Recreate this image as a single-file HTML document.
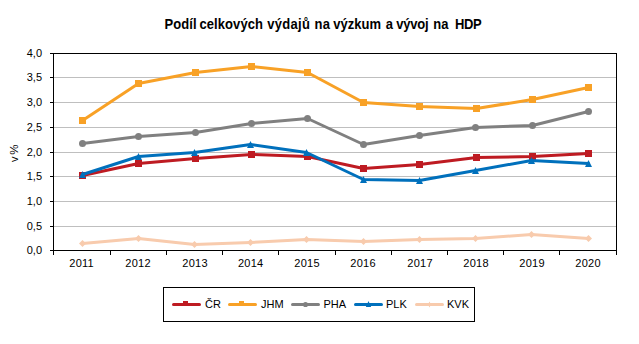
<!DOCTYPE html>
<html><head><meta charset="utf-8"><style>
html,body{margin:0;padding:0;background:#fff;}
svg{display:block;}
.t{font-family:"Liberation Sans",sans-serif;font-size:11px;fill:#000;}
.title{font-family:"Liberation Sans",sans-serif;font-size:13px;font-weight:bold;fill:#000;}
</style></head><body>
<svg width="639" height="344" viewBox="0 0 639 344">
<rect width="639" height="344" fill="#fff"/>
<line x1="54" y1="77.5" x2="616" y2="77.5" stroke="#BFBFBF" stroke-width="1"/>
<line x1="54" y1="102.5" x2="616" y2="102.5" stroke="#BFBFBF" stroke-width="1"/>
<line x1="54" y1="127.5" x2="616" y2="127.5" stroke="#BFBFBF" stroke-width="1"/>
<line x1="54" y1="152.5" x2="616" y2="152.5" stroke="#BFBFBF" stroke-width="1"/>
<line x1="54" y1="176.5" x2="616" y2="176.5" stroke="#BFBFBF" stroke-width="1"/>
<line x1="54" y1="201.5" x2="616" y2="201.5" stroke="#BFBFBF" stroke-width="1"/>
<line x1="54" y1="226.5" x2="616" y2="226.5" stroke="#BFBFBF" stroke-width="1"/>
<rect x="53.5" y="53.5" width="563" height="197" fill="none" stroke="#000" stroke-width="1"/>
<line x1="50" y1="53.5" x2="54" y2="53.5" stroke="#000" stroke-width="1"/>
<text x="42" y="57.0" text-anchor="end" class="t">4,0</text>
<line x1="50" y1="77.5" x2="54" y2="77.5" stroke="#000" stroke-width="1"/>
<text x="42" y="81.0" text-anchor="end" class="t">3,5</text>
<line x1="50" y1="102.5" x2="54" y2="102.5" stroke="#000" stroke-width="1"/>
<text x="42" y="106.0" text-anchor="end" class="t">3,0</text>
<line x1="50" y1="127.5" x2="54" y2="127.5" stroke="#000" stroke-width="1"/>
<text x="42" y="131.0" text-anchor="end" class="t">2,5</text>
<line x1="50" y1="152.5" x2="54" y2="152.5" stroke="#000" stroke-width="1"/>
<text x="42" y="156.0" text-anchor="end" class="t">2,0</text>
<line x1="50" y1="176.5" x2="54" y2="176.5" stroke="#000" stroke-width="1"/>
<text x="42" y="180.0" text-anchor="end" class="t">1,5</text>
<line x1="50" y1="201.5" x2="54" y2="201.5" stroke="#000" stroke-width="1"/>
<text x="42" y="205.0" text-anchor="end" class="t">1,0</text>
<line x1="50" y1="226.5" x2="54" y2="226.5" stroke="#000" stroke-width="1"/>
<text x="42" y="230.0" text-anchor="end" class="t">0,5</text>
<line x1="50" y1="250.5" x2="54" y2="250.5" stroke="#000" stroke-width="1"/>
<text x="42" y="254.0" text-anchor="end" class="t">0,0</text>
<line x1="53.5" y1="250" x2="53.5" y2="255" stroke="#000" stroke-width="1"/>
<line x1="110.5" y1="250" x2="110.5" y2="255" stroke="#000" stroke-width="1"/>
<line x1="166.5" y1="250" x2="166.5" y2="255" stroke="#000" stroke-width="1"/>
<line x1="222.5" y1="250" x2="222.5" y2="255" stroke="#000" stroke-width="1"/>
<line x1="278.5" y1="250" x2="278.5" y2="255" stroke="#000" stroke-width="1"/>
<line x1="335.5" y1="250" x2="335.5" y2="255" stroke="#000" stroke-width="1"/>
<line x1="391.5" y1="250" x2="391.5" y2="255" stroke="#000" stroke-width="1"/>
<line x1="447.5" y1="250" x2="447.5" y2="255" stroke="#000" stroke-width="1"/>
<line x1="503.5" y1="250" x2="503.5" y2="255" stroke="#000" stroke-width="1"/>
<line x1="559.5" y1="250" x2="559.5" y2="255" stroke="#000" stroke-width="1"/>
<line x1="616.5" y1="250" x2="616.5" y2="255" stroke="#000" stroke-width="1"/>
<text x="81.60" y="267" text-anchor="middle" class="t" letter-spacing="0.25">2011</text>
<text x="138.10" y="267" text-anchor="middle" class="t" letter-spacing="0.25">2012</text>
<text x="195.10" y="267" text-anchor="middle" class="t" letter-spacing="0.25">2013</text>
<text x="250.70" y="267" text-anchor="middle" class="t" letter-spacing="0.25">2014</text>
<text x="307.10" y="267" text-anchor="middle" class="t" letter-spacing="0.25">2015</text>
<text x="363.10" y="267" text-anchor="middle" class="t" letter-spacing="0.25">2016</text>
<text x="420.10" y="267" text-anchor="middle" class="t" letter-spacing="0.25">2017</text>
<text x="476.10" y="267" text-anchor="middle" class="t" letter-spacing="0.25">2018</text>
<text x="532.10" y="267" text-anchor="middle" class="t" letter-spacing="0.25">2019</text>
<text x="588.10" y="267" text-anchor="middle" class="t" letter-spacing="0.25">2020</text>
<polyline points="82.50,175.50 138.50,163.50 195.50,158.50 251.50,154.50 307.50,156.50 363.50,168.50 419.50,164.50 476.50,157.50 532.50,156.50 588.50,153.50" fill="none" stroke="#BE1B22" stroke-width="3" stroke-linejoin="round" stroke-linecap="round"/>
<rect x="79.00" y="172.00" width="7.0" height="7.0" fill="#BE1B22"/>
<rect x="135.00" y="160.00" width="7.0" height="7.0" fill="#BE1B22"/>
<rect x="192.00" y="155.00" width="7.0" height="7.0" fill="#BE1B22"/>
<rect x="248.00" y="151.00" width="7.0" height="7.0" fill="#BE1B22"/>
<rect x="304.00" y="153.00" width="7.0" height="7.0" fill="#BE1B22"/>
<rect x="360.00" y="165.00" width="7.0" height="7.0" fill="#BE1B22"/>
<rect x="416.00" y="161.00" width="7.0" height="7.0" fill="#BE1B22"/>
<rect x="473.00" y="154.00" width="7.0" height="7.0" fill="#BE1B22"/>
<rect x="529.00" y="153.00" width="7.0" height="7.0" fill="#BE1B22"/>
<rect x="585.00" y="150.00" width="7.0" height="7.0" fill="#BE1B22"/>
<polyline points="82.50,120.50 138.50,83.50 195.50,72.50 251.50,66.50 307.50,72.50 363.50,102.50 419.50,106.50 476.50,108.50 532.50,99.50 588.50,87.50" fill="none" stroke="#F8A126" stroke-width="3" stroke-linejoin="round" stroke-linecap="round"/>
<rect x="79.00" y="117.00" width="7.0" height="7.0" fill="#F8A126"/>
<rect x="135.00" y="80.00" width="7.0" height="7.0" fill="#F8A126"/>
<rect x="192.00" y="69.00" width="7.0" height="7.0" fill="#F8A126"/>
<rect x="248.00" y="63.00" width="7.0" height="7.0" fill="#F8A126"/>
<rect x="304.00" y="69.00" width="7.0" height="7.0" fill="#F8A126"/>
<rect x="360.00" y="99.00" width="7.0" height="7.0" fill="#F8A126"/>
<rect x="416.00" y="103.00" width="7.0" height="7.0" fill="#F8A126"/>
<rect x="473.00" y="105.00" width="7.0" height="7.0" fill="#F8A126"/>
<rect x="529.00" y="96.00" width="7.0" height="7.0" fill="#F8A126"/>
<rect x="585.00" y="84.00" width="7.0" height="7.0" fill="#F8A126"/>
<polyline points="82.50,143.50 138.50,136.50 195.50,132.50 251.50,123.50 307.50,118.50 363.50,144.50 419.50,135.50 475.50,127.50 532.50,125.50 588.50,111.50" fill="none" stroke="#808080" stroke-width="3" stroke-linejoin="round" stroke-linecap="round"/>
<circle cx="82.50" cy="143.50" r="3.5" fill="#808080"/>
<circle cx="138.50" cy="136.50" r="3.5" fill="#808080"/>
<circle cx="195.50" cy="132.50" r="3.5" fill="#808080"/>
<circle cx="251.50" cy="123.50" r="3.5" fill="#808080"/>
<circle cx="307.50" cy="118.50" r="3.5" fill="#808080"/>
<circle cx="363.50" cy="144.50" r="3.5" fill="#808080"/>
<circle cx="419.50" cy="135.50" r="3.5" fill="#808080"/>
<circle cx="475.50" cy="127.50" r="3.5" fill="#808080"/>
<circle cx="532.50" cy="125.50" r="3.5" fill="#808080"/>
<circle cx="588.50" cy="111.50" r="3.5" fill="#808080"/>
<polyline points="82.50,174.50 138.50,156.50 194.50,152.50 250.50,144.50 306.50,152.50 363.50,179.50 419.50,180.50 475.50,170.50 531.50,160.50 588.50,163.50" fill="none" stroke="#0070BC" stroke-width="3" stroke-linejoin="round" stroke-linecap="round"/>
<path d="M82.50 171.00L86.00 178.00L79.00 178.00Z" fill="#0070BC"/>
<path d="M138.50 153.00L142.00 160.00L135.00 160.00Z" fill="#0070BC"/>
<path d="M194.50 149.00L198.00 156.00L191.00 156.00Z" fill="#0070BC"/>
<path d="M250.50 141.00L254.00 148.00L247.00 148.00Z" fill="#0070BC"/>
<path d="M306.50 149.00L310.00 156.00L303.00 156.00Z" fill="#0070BC"/>
<path d="M363.50 176.00L367.00 183.00L360.00 183.00Z" fill="#0070BC"/>
<path d="M419.50 177.00L423.00 184.00L416.00 184.00Z" fill="#0070BC"/>
<path d="M475.50 167.00L479.00 174.00L472.00 174.00Z" fill="#0070BC"/>
<path d="M531.50 157.00L535.00 164.00L528.00 164.00Z" fill="#0070BC"/>
<path d="M588.50 160.00L592.00 167.00L585.00 167.00Z" fill="#0070BC"/>
<polyline points="82.50,243.50 138.50,238.50 194.50,244.50 250.50,242.50 306.50,239.50 363.50,241.50 419.50,239.50 475.50,238.50 531.50,234.50 588.50,238.50" fill="none" stroke="#F8CBAD" stroke-width="3" stroke-linejoin="round" stroke-linecap="round"/>
<path d="M82.50 240.00L86.00 243.50L82.50 247.00L79.00 243.50Z" fill="#F8CBAD"/>
<path d="M138.50 235.00L142.00 238.50L138.50 242.00L135.00 238.50Z" fill="#F8CBAD"/>
<path d="M194.50 241.00L198.00 244.50L194.50 248.00L191.00 244.50Z" fill="#F8CBAD"/>
<path d="M250.50 239.00L254.00 242.50L250.50 246.00L247.00 242.50Z" fill="#F8CBAD"/>
<path d="M306.50 236.00L310.00 239.50L306.50 243.00L303.00 239.50Z" fill="#F8CBAD"/>
<path d="M363.50 238.00L367.00 241.50L363.50 245.00L360.00 241.50Z" fill="#F8CBAD"/>
<path d="M419.50 236.00L423.00 239.50L419.50 243.00L416.00 239.50Z" fill="#F8CBAD"/>
<path d="M475.50 235.00L479.00 238.50L475.50 242.00L472.00 238.50Z" fill="#F8CBAD"/>
<path d="M531.50 231.00L535.00 234.50L531.50 238.00L528.00 234.50Z" fill="#F8CBAD"/>
<path d="M588.50 235.00L592.00 238.50L588.50 242.00L585.00 238.50Z" fill="#F8CBAD"/>
<text x="164.40" y="0" transform="translate(0,29) scale(1,1.09)" textLength="32.10" lengthAdjust="spacing" class="title">Podíl</text>
<text x="199.40" y="0" transform="translate(0,29) scale(1,1.09)" textLength="63.60" lengthAdjust="spacing" class="title">celkových</text>
<text x="267.15" y="0" transform="translate(0,29) scale(1,1.09)" textLength="42.75" lengthAdjust="spacing" class="title">výdajů</text>
<text x="314.40" y="0" transform="translate(0,29) scale(1,1.09)" textLength="15.50" lengthAdjust="spacing" class="title">na</text>
<text x="333.15" y="0" transform="translate(0,29) scale(1,1.09)" textLength="47.95" lengthAdjust="spacing" class="title">výzkum</text>
<text x="385.65" y="0" transform="translate(0,29) scale(1,1.09)" textLength="7.95" lengthAdjust="spacing" class="title">a</text>
<text x="396.30" y="0" transform="translate(0,29) scale(1,1.09)" textLength="32.30" lengthAdjust="spacing" class="title">vývoj</text>
<text x="433.15" y="0" transform="translate(0,29) scale(1,1.09)" textLength="15.45" lengthAdjust="spacing" class="title">na</text>
<text x="455.00" y="0" transform="translate(0,29) scale(1,1.09)" textLength="26.75" lengthAdjust="spacing" class="title">HDP</text>
<text transform="translate(18,153.5) rotate(-90)" class="t"><tspan x="-8.6" y="0">v</tspan><tspan x="-1.3" y="0" style="font-size:11.5px">%</tspan></text>
<rect x="163.5" y="287.5" width="311" height="34" fill="none" stroke="#000" stroke-width="1"/>
<line x1="173.5" y1="304.5" x2="199.5" y2="304.5" stroke="#BE1B22" stroke-width="3" stroke-linecap="round"/>
<text x="205" y="308" class="t">ČR</text>
<line x1="229.5" y1="304.5" x2="255.5" y2="304.5" stroke="#F8A126" stroke-width="3" stroke-linecap="round"/>
<text x="261" y="308" class="t">JHM</text>
<line x1="292.5" y1="304.5" x2="318.5" y2="304.5" stroke="#808080" stroke-width="3" stroke-linecap="round"/>
<text x="323.5" y="308" class="t">PHA</text>
<line x1="355.5" y1="304.5" x2="381.5" y2="304.5" stroke="#0070BC" stroke-width="3" stroke-linecap="round"/>
<text x="386" y="308" class="t">PLK</text>
<line x1="416.5" y1="304.5" x2="442.5" y2="304.5" stroke="#F8CBAD" stroke-width="3" stroke-linecap="round"/>
<text x="447" y="308" class="t">KVK</text>
<rect x="183" y="301" width="5" height="5" fill="#BE1B22"/>
<rect x="239" y="301" width="5" height="5" fill="#F8A126"/>
<circle cx="305.5" cy="304.5" r="2.6" fill="#808080"/>
<path d="M368.5 301L371.2 307L365.8 307Z" fill="#0070BC"/>
<path d="M429.5 301.5L431 304.5L429.5 307.5L428 304.5Z" fill="#F8CBAD"/>
</svg>
</body></html>
